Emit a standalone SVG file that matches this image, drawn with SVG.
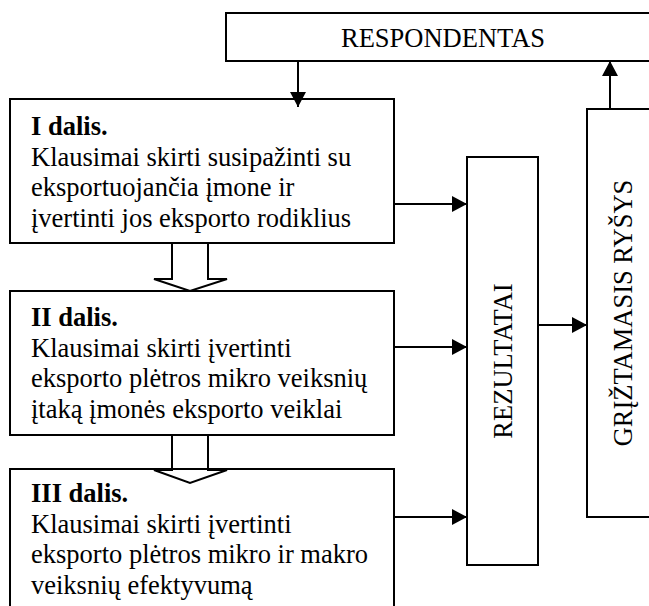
<svg xmlns="http://www.w3.org/2000/svg" width="649" height="606" viewBox="0 0 649 606">
  <defs>
    <marker id="head" viewBox="0 0 15 16" refX="15" refY="8" markerWidth="15" markerHeight="16" markerUnits="userSpaceOnUse" orient="auto">
      <path d="M0,0 L15,8 L0,16 z" fill="#000"/>
    </marker>
    <style>
      .box { fill: #fff; stroke: #000; stroke-width: 2; }
      .wire { fill: none; stroke: #000; stroke-width: 2; }
      .hollow { fill: none; stroke: #000; stroke-width: 2; stroke-linejoin: miter; }
      .t { font-family: "Liberation Serif", "Times New Roman", serif; font-size: 26.5px; fill: #000; }
      .b { font-weight: bold; }
      .mid { text-anchor: middle; }
    </style>
  </defs>
  <rect width="649" height="606" fill="#fff"/>

  <g id="respondentas">
    <rect class="box" x="226" y="13" width="440" height="48"/>
    <text class="t mid" x="443" y="47">RESPONDENTAS</text>
  </g>

  <g id="dalis1">
    <rect class="box" x="10" y="99" width="384" height="144"/>
    <text class="t b" x="31" y="135">I dalis.</text>
    <text class="t" x="31" y="165.5">Klausimai skirti susipažinti su</text>
    <text class="t" x="31" y="196">eksportuojančia įmone ir</text>
    <text class="t" x="31" y="226.5">įvertinti jos eksporto rodiklius</text>
  </g>

  <g id="dalis2">
    <rect class="box" x="10" y="291" width="384" height="144"/>
    <text class="t b" x="31" y="326">II dalis.</text>
    <text class="t" x="31" y="356.5">Klausimai skirti įvertinti</text>
    <text class="t" x="31" y="387">eksporto plėtros mikro veiksnių</text>
    <text class="t" x="31" y="417.5">įtaką įmonės eksporto veiklai</text>
  </g>

  <g id="dalis3">
    <rect class="box" x="10" y="469" width="384" height="150"/>
    <text class="t b" x="31" y="502">III dalis.</text>
    <text class="t" x="31" y="532.5">Klausimai skirti įvertinti</text>
    <text class="t" x="31" y="563">eksporto plėtros mikro ir makro</text>
    <text class="t" x="31" y="593.5">veiksnių efektyvumą</text>
  </g>

  <g id="rezultatai">
    <rect class="box" x="467" y="157" width="71" height="408"/>
    <text class="t mid" transform="translate(512 361) rotate(-90)">REZULTATAI</text>
  </g>

  <g id="griztamasis">
    <rect class="box" x="587" y="109" width="80" height="408"/>
    <text class="t mid" transform="translate(632 313) rotate(-90)">GRĮŽTAMASIS RYŠYS</text>
  </g>

  <g id="connectors">
    <line class="wire" x1="298" y1="61" x2="298" y2="107" marker-end="url(#head)"/>
    <line class="wire" x1="610" y1="109" x2="610" y2="61" marker-end="url(#head)"/>
    <line class="wire" x1="394" y1="204" x2="467" y2="204" marker-end="url(#head)"/>
    <line class="wire" x1="394" y1="347" x2="467" y2="347" marker-end="url(#head)"/>
    <line class="wire" x1="394" y1="517" x2="467" y2="517" marker-end="url(#head)"/>
    <line class="wire" x1="538" y1="325" x2="587" y2="325" marker-end="url(#head)"/>
    <path class="hollow" d="M172,243 V279 H154 L190,291 L227,279 H208 V243"/>
    <path class="hollow" d="M172,435 V470 H154 L190,483 L227,470 H208 V435"/>
  </g>
</svg>
